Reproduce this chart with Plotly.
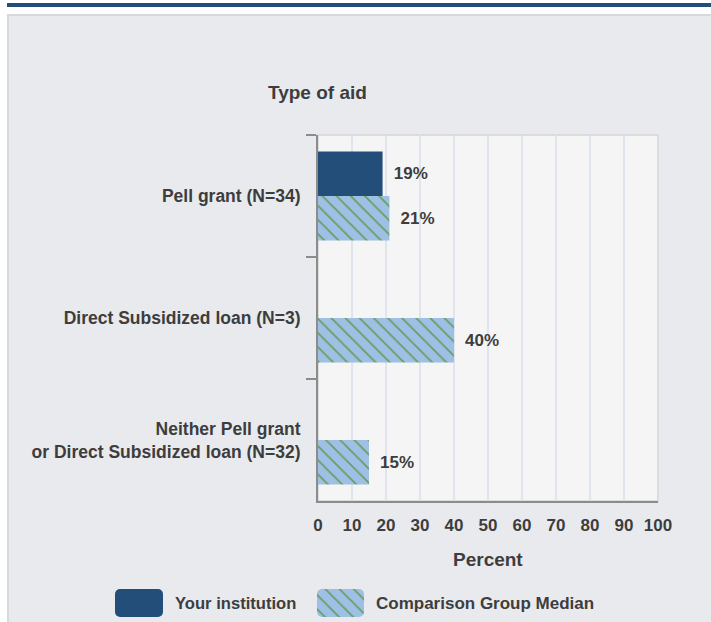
import plotly.graph_objects as go

# ---- data ----
categories = [
    "Pell grant (N=34)",
    "Direct Subsidized loan (N=3)",
    "Neither Pell grant<br>or Direct Subsidized loan (N=32)",
]
your_institution = [19, None, None]
comparison_median = [21, 40, 15]
x_ticks = [0, 10, 20, 30, 40, 50, 60, 70, 80, 90, 100]
series_names = ["Your institution", "Comparison Group Median"]

# ---- style ----
W, H = 730, 622
FONT = "Liberation Sans, Arial, sans-serif"
TXT = "#3d3d3d"
DARK = "#234e7a"
LIGHT = "#9fbfe4"
DOTS = "#62a060"
AXIS = "#8c8c8c"

# the captured picture is slightly compressed horizontally; place things in page px
SX, OX = 0.974, 5.0

def page_x(img_x):
    return (img_x - OX) / SX

def px_x(img_x):
    return page_x(img_x) / W

def px_y(p):
    return 1 - p / H

def label(v):
    return "\u00a0\u2009" + f"{v}%" if v is not None else ""

def pattern():
    return dict(shape="\\", fgcolor=DOTS, bgcolor=LIGHT, size=10, solidity=0.17, fillmode="replace")

fig = go.Figure()
fig.add_trace(go.Bar(
    y=categories, x=your_institution, orientation="h", name=series_names[0],
    marker=dict(color=DARK, line=dict(width=0)),
    text=[label(v) for v in your_institution], textposition="outside",
    textfont=dict(family=FONT, size=17, color=TXT, weight="bold"),
    cliponaxis=False, showlegend=False, xaxis="x", yaxis="y",
))
fig.add_trace(go.Bar(
    y=categories, x=comparison_median, orientation="h", name=series_names[1],
    marker=dict(color=LIGHT, pattern=pattern(), line=dict(width=0)),
    text=[label(v) for v in comparison_median], textposition="outside",
    textfont=dict(family=FONT, size=17, color=TXT, weight="bold"),
    cliponaxis=False, showlegend=False, xaxis="x", yaxis="y",
))

# legend swatches drawn in a hidden pixel-space subplot
sw_top, sw_h = 589, 28
fig.add_trace(go.Bar(
    x=[page_x(115)], y=[sw_h], base=[sw_top], width=[page_x(163) - page_x(115)], offset=0,
    marker=dict(color=DARK, cornerradius=5, line=dict(width=0)),
    xaxis="x2", yaxis="y2", showlegend=False, hoverinfo="skip",
))
fig.add_trace(go.Bar(
    x=[page_x(317)], y=[sw_h], base=[sw_top], width=[page_x(364) - page_x(317)], offset=0,
    marker=dict(color=LIGHT, cornerradius=5, line=dict(width=0), pattern=pattern()),
    xaxis="x2", yaxis="y2", showlegend=False, hoverinfo="skip",
))

shapes = [
    dict(type="rect", xref="paper", yref="paper", x0=-0.01, x1=1.01, y0=px_y(14), y1=1.01,
         fillcolor="white", line=dict(width=0), layer="below"),
    dict(type="rect", xref="paper", yref="paper", x0=-0.01, x1=px_x(7), y0=-0.01, y1=1.01,
         fillcolor="white", line=dict(width=0), layer="below"),
    dict(type="rect", xref="paper", yref="paper", x0=px_x(7), x1=1.0, y0=px_y(7), y1=px_y(3),
         fillcolor=DARK, line=dict(width=0), layer="below"),
    dict(type="rect", xref="paper", yref="paper", x0=px_x(8), x1=1.02, y0=px_y(625), y1=px_y(15),
         fillcolor="#e9eaee", line=dict(color="#d8d9dc", width=2), layer="below"),
    dict(type="rect", xref="x domain", yref="y domain", x0=0, x1=1, y0=0, y1=1,
         fillcolor="#f5f5f5", line=dict(color="#dcdcdc", width=2), layer="below"),
]

annotations = [
    dict(text="Type of aid", xref="paper", yref="paper", x=px_x(318), y=px_y(93),
         xanchor="center", yanchor="middle", showarrow=False,
         font=dict(family=FONT, size=19, color=TXT, weight="bold")),
    dict(text="Percent", xref="x domain", yref="paper", x=0.5, y=px_y(559),
         xanchor="center", yanchor="middle", showarrow=False,
         font=dict(family=FONT, size=19, color=TXT, weight="bold")),
    dict(text=series_names[0], xref="paper", yref="paper", x=px_x(173), y=px_y(603),
         xanchor="left", yanchor="middle", showarrow=False,
         font=dict(family=FONT, size=16.6, color=TXT, weight="bold")),
    dict(text=series_names[1], xref="paper", yref="paper", x=px_x(374), y=px_y(603),
         xanchor="left", yanchor="middle", showarrow=False,
         font=dict(family=FONT, size=17, color=TXT, weight="bold")),
]

fig.update_layout(
    width=W, height=H,
    margin=dict(l=0, r=0, t=0, b=0, pad=0),
    paper_bgcolor="#e9eaee", plot_bgcolor="rgba(0,0,0,0)",
    barmode="group", bargap=0.27, bargroupgap=0,
    font=dict(family=FONT, color=TXT),
    shapes=shapes, annotations=annotations,
    xaxis=dict(domain=[px_x(318), px_x(658)], range=[0, 100], tickvals=x_ticks,
               showgrid=True, gridcolor="#dfe4ee", gridwidth=2, zeroline=False,
               showline=True, linecolor=AXIS, linewidth=2, ticks="",
               ticklabelstandoff=8, anchor="y",
               tickfont=dict(family=FONT, size=17, color=TXT, weight="bold"), fixedrange=True),
    yaxis=dict(domain=[px_y(501), px_y(135)], type="category", categoryorder="array",
               categoryarray=categories, autorange="reversed", tickson="boundaries",
               ticks="outside", ticklen=10, tickwidth=2, tickcolor=AXIS,
               showline=True, linecolor=AXIS, linewidth=2, showgrid=False,
               ticklabelstandoff=12, anchor="x",
               tickfont=dict(family=FONT, size=17.5, color=TXT, weight="bold"), fixedrange=True),
    xaxis2=dict(domain=[0, 1], range=[0, W], visible=False, anchor="y2", fixedrange=True),
    yaxis2=dict(domain=[0, 1], range=[H, 0], visible=False, anchor="x2", fixedrange=True),
)

fig.write_html(
    "out.html",
    config={"displayModeBar": False},
    post_script="document.body.style.margin='0';document.body.style.overflow='hidden';",
)
